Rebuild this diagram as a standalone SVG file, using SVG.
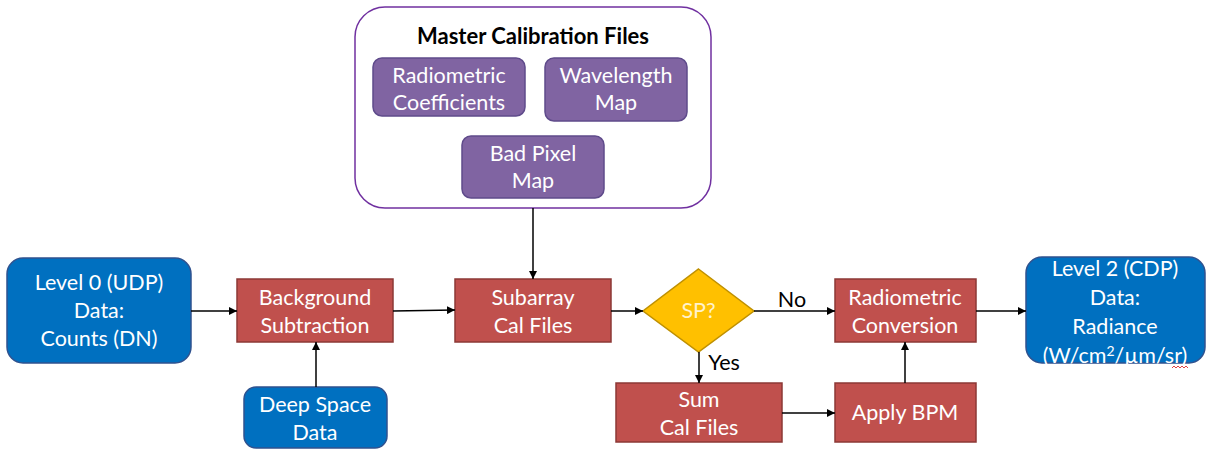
<svg xmlns="http://www.w3.org/2000/svg" width="1207" height="451" viewBox="0 0 1207 451">
  <defs>
    <marker id="arrow" viewBox="0 0 10 10" refX="10" refY="5" markerWidth="8" markerHeight="8" markerUnits="userSpaceOnUse" orient="auto">
      <path d="M0,0 L10,5 L0,10 z" fill="#000"/>
    </marker>
    <style>
      .t { font-family: Lato, "Open Sans", "Liberation Sans", sans-serif; font-size: 21.5px; fill: #fff; text-anchor: middle; }
      .dark { fill: #000; }
      .title { font-family: Lato, "Open Sans", "Liberation Sans", sans-serif; font-size: 22px; font-weight: bold; fill: #000; text-anchor: middle; }
      .proc { fill: #C0504D; stroke: #8C3836; stroke-width: 1.5; }
      .data { fill: #0070C0; stroke: #2F528F; stroke-width: 1.5; }
      .cal { fill: #8064A2; stroke: #5F4B8B; stroke-width: 1.5; }
      .group { fill: #fff; stroke: #7030A0; stroke-width: 1.5; }
      .dec { fill: #FFC000; stroke: #BF9000; stroke-width: 1.5; }
      .edge { stroke: #000; stroke-width: 1.5; fill: none; marker-end: url(#arrow); }
    </style>
  </defs>

  <!-- master calibration files container -->
  <g id="master">
    <rect class="group" x="355" y="7" width="356" height="201" rx="30"/>
    <text class="title" x="533" y="44">Master Calibration Files</text>
  </g>
  <g id="radiometric-coefficients">
    <rect class="cal" x="373" y="58" width="152" height="58" rx="9"/>
    <text class="t" x="449" y="83">Radiometric</text>
    <text class="t" x="449" y="110">Coefficients</text>
  </g>
  <g id="wavelength-map">
    <rect class="cal" x="545" y="58" width="142" height="63" rx="9"/>
    <text class="t" x="616" y="83">Wavelength</text>
    <text class="t" x="616" y="110">Map</text>
  </g>
  <g id="bad-pixel-map">
    <rect class="cal" x="462" y="136" width="142" height="62" rx="9"/>
    <text class="t" x="533" y="161">Bad Pixel</text>
    <text class="t" x="533" y="188">Map</text>
  </g>

  <!-- input data -->
  <g id="level0">
    <rect class="data" x="7" y="258" width="184" height="105" rx="16"/>
    <text class="t" x="99" y="290">Level 0 (UDP)</text>
    <text class="t" x="99" y="318">Data:</text>
    <text class="t" x="99" y="346">Counts (DN)</text>
  </g>
  <g id="deep-space">
    <rect class="data" x="244" y="387" width="143" height="61" rx="12"/>
    <text class="t" x="315" y="412">Deep Space</text>
    <text class="t" x="315" y="440">Data</text>
  </g>

  <!-- processing steps -->
  <g id="background-subtraction">
    <rect class="proc" x="237" y="279" width="156" height="63"/>
    <text class="t" x="315" y="305">Background</text>
    <text class="t" x="315" y="333">Subtraction</text>
  </g>
  <g id="subarray">
    <rect class="proc" x="455" y="279" width="156" height="63"/>
    <text class="t" x="533" y="305">Subarray</text>
    <text class="t" x="533" y="333">Cal Files</text>
  </g>
  <g id="sp-decision">
    <polygon class="dec" points="698.5,269 754,311 698.5,352 643,311"/>
    <text class="t" x="698.5" y="318" style="fill:#FFF2CC">SP?</text>
  </g>
  <g id="sum-cal-files">
    <rect class="proc" x="616" y="383" width="166" height="59"/>
    <text class="t" x="699" y="407">Sum</text>
    <text class="t" x="699" y="435">Cal Files</text>
  </g>
  <g id="radiometric-conversion">
    <rect class="proc" x="835" y="279" width="141" height="63"/>
    <text class="t" x="905" y="305">Radiometric</text>
    <text class="t" x="905" y="333">Conversion</text>
  </g>
  <g id="apply-bpm">
    <rect class="proc" x="835" y="383" width="141" height="59"/>
    <text class="t" x="905" y="420">Apply BPM</text>
  </g>

  <!-- output data -->
  <g id="level2">
    <rect class="data" x="1026" y="257" width="179" height="106" rx="16"/>
    <text class="t" x="1115" y="276">Level 2 (CDP)</text>
    <text class="t" x="1115" y="305">Data:</text>
    <text class="t" x="1115" y="334">Radiance</text>
    <text class="t" x="1115" y="363">(W/cm<tspan font-size="14" dy="-7">2</tspan><tspan dy="7">/µm/sr)</tspan></text>
    <path d="M1172,368 l2,-2 l2,2 l2,-2 l2,2 l2,-2 l2,2 l2,-2 l2,2" stroke="#E04040" stroke-width="1" fill="none"/>
  </g>

  <!-- connectors -->
  <g id="connectors">
    <line class="edge" x1="191" y1="311" x2="237" y2="311"/>
    <line class="edge" x1="316" y1="387" x2="316" y2="342"/>
    <line class="edge" x1="393" y1="311" x2="455" y2="310"/>
    <line class="edge" x1="533" y1="208" x2="533" y2="279"/>
    <line class="edge" x1="611" y1="311" x2="643" y2="311"/>
    <line class="edge" x1="754" y1="311" x2="835" y2="311"/>
    <line class="edge" x1="699" y1="352" x2="699" y2="383"/>
    <line class="edge" x1="782" y1="413" x2="835" y2="413"/>
    <line class="edge" x1="905" y1="383" x2="905" y2="342"/>
    <line class="edge" x1="976" y1="311" x2="1026" y2="311"/>
    <text class="t dark" x="792" y="307">No</text>
    <text class="t dark" x="724" y="370">Yes</text>
  </g>
</svg>
